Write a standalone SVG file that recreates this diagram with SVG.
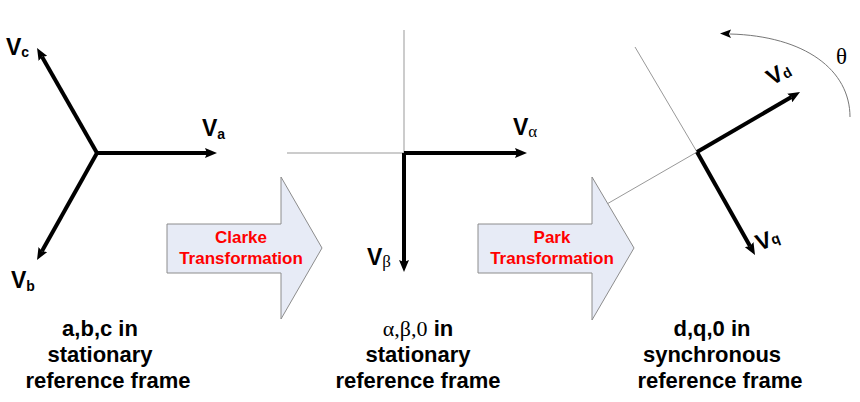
<svg xmlns="http://www.w3.org/2000/svg" width="860" height="402" viewBox="0 0 860 402">
<style>
.vec{stroke:#000;stroke-width:4;fill:none;marker-end:url(#ah)}
.axis{stroke:#999;stroke-width:1;fill:none}
.lbl{font-family:"Liberation Sans",Arial,sans-serif;font-weight:bold;fill:#000}
.v{font-size:23px}
.sub{font-size:14px}
.greek{font-family:"Liberation Serif","Times New Roman",serif;font-weight:normal;fill:#000}
.cap{font-family:"Liberation Sans",Arial,sans-serif;font-weight:bold;font-size:22px;fill:#000;text-anchor:middle}
.block{fill:#e7ebf6;stroke:#8c8c8c;stroke-width:1}
.blk{font-family:"Liberation Sans",Arial,sans-serif;font-weight:bold;font-size:17px;fill:#ff0000;text-anchor:middle}
</style>
<defs>
<marker id="ah" viewBox="0 0 12 10" refX="2" refY="5" markerWidth="12" markerHeight="10" markerUnits="userSpaceOnUse" orient="auto">
<path d="M0,0 L12,5 L0,10 L2,5 z" fill="#000"/>
</marker>
</defs>
<rect width="860" height="402" fill="#fff"/>

<g id="connectors">
<line class="axis" x1="287" y1="153" x2="404" y2="153"/>
<line class="axis" x1="404" y1="30" x2="404" y2="153"/>
<line class="axis" x1="697" y1="152" x2="635" y2="47"/>
<line class="axis" x1="697" y1="152" x2="600" y2="208"/>
<path d="M850,117 C850,70 805,36 730,34" stroke="#777" stroke-width="1" fill="none"/>
<polygon points="720,33.5 731,29.5 729,34 731,38" fill="#000"/>
</g>

<g id="abc-frame">
<line class="vec" x1="97" y1="153" x2="207" y2="153"/>
<line class="vec" x1="97" y1="153" x2="42" y2="56.7"/>
<line class="vec" x1="97" y1="153" x2="41.9" y2="251.3"/>
<text class="lbl" x="202" y="136"><tspan class="v">V</tspan><tspan class="sub" dy="3">a</tspan></text>
<text class="lbl" x="6" y="55"><tspan class="v">V</tspan><tspan class="sub" dy="2">c</tspan></text>
<text class="lbl" x="11" y="288"><tspan class="v">V</tspan><tspan class="sub" dy="3">b</tspan></text>
</g>

<g id="clarke">
<polygon class="block" points="167,224 281,224 281,177 322,248 281,319 281,273 167,273"/>
<text class="blk" x="241" y="243">Clarke</text>
<text class="blk" x="241" y="264">Transformation</text>
</g>

<g id="alphabeta-frame">
<line class="vec" x1="404" y1="153" x2="517" y2="153"/>
<line class="vec" x1="404" y1="153" x2="404" y2="262"/>
<text class="lbl" x="513" y="135"><tspan class="v">V</tspan><tspan class="greek" font-size="17" dy="2">α</tspan></text>
<text class="lbl" x="367" y="265"><tspan class="v">V</tspan><tspan class="greek" font-size="17" dy="2">β</tspan></text>
</g>

<g id="park">
<polygon class="block" points="478,224 592,224 592,177 634,248 592,320 592,273 478,273"/>
<text class="blk" x="552" y="243">Park</text>
<text class="blk" x="552" y="264">Transformation</text>
</g>

<g id="dq-frame">
<line class="vec" x1="697" y1="152" x2="791.4" y2="97"/>
<line class="vec" x1="697" y1="152" x2="750.1" y2="246.3"/>
<text class="lbl" transform="translate(772,86) rotate(-30)"><tspan class="v">V</tspan><tspan class="sub" dy="1">d</tspan></text>
<text class="lbl" transform="translate(759,251) rotate(-20)"><tspan class="v">V</tspan><tspan class="sub" dy="-1">q</tspan></text>
<text class="greek" x="836" y="64" font-size="23">θ</text>
</g>

<g id="caption-abc">
<text class="cap" x="100" y="336">a,b,c in</text>
<text class="cap" x="100" y="362">stationary</text>
<text class="cap" x="108" y="388">reference frame</text>
</g>
<g id="caption-alphabeta">
<text class="cap" x="418" y="336"><tspan class="greek">α,β,0</tspan> in</text>
<text class="cap" x="418" y="362">stationary</text>
<text class="cap" x="418" y="388">reference frame</text>
</g>
<g id="caption-dq">
<text class="cap" x="712" y="336">d,q,0 in</text>
<text class="cap" x="712" y="362">synchronous</text>
<text class="cap" x="720" y="388">reference frame</text>
</g>
</svg>
